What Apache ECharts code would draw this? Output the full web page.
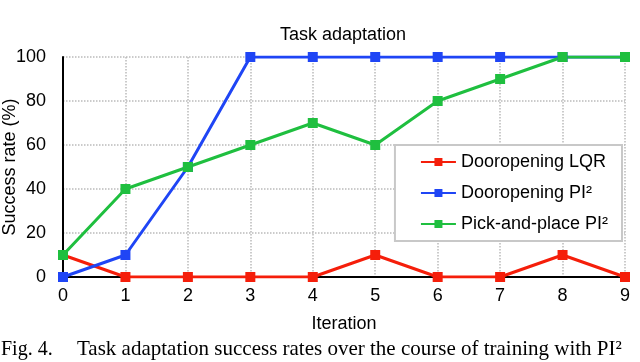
<!DOCTYPE html>
<html>
<head>
<meta charset="utf-8">
<script src="https://cdn.jsdelivr.net/npm/echarts@6/dist/echarts.min.js"></script>
<style>
  html, body { margin: 0; padding: 0; background: #fff; }
  #chart { width: 640px; height: 362px; }
</style>
</head>
<body>
<div id="chart"></div>
<script>
const iterations = ['0', '1', '2', '3', '4', '5', '6', '7', '8', '9']
const doorLqr = [10, 0, 0, 0, 0, 10, 0, 0, 10, 0]
const doorPi2 = [0, 10, 50, 100, 100, 100, 100, 100, 100, 100]
const pickPlacePi2 = [10, 40, 50, 60, 70, 60, 80, 90, 100, 100]
const seriesNames = ['Dooropening LQR', 'Dooropening PI²', 'Pick-and-place PI²']
const seriesColors = ['#f51e0a', '#1f45f5', '#1fbf3f']

const font = 'Liberation Sans, Arial, sans-serif'
const serif = 'Liberation Serif, Times New Roman, serif'
const myChart = echarts.init(document.getElementById('chart'))

const makeSeries = (name, data, color) => ({
  name,
  type: 'line',
  data,
  symbol: 'rect',
  symbolSize: 10,
  lineStyle: { width: 3, color },
  itemStyle: { color },
  animation: false
})

myChart.setOption({
  backgroundColor: '#fff',
  title: {
    text: 'Task adaptation',
    left: 338,
    textAlign: 'center',
    top: 21,
    textStyle: { fontFamily: font, fontSize: 18, fontWeight: 'normal', color: '#000' }
  },
  legend: {
    orient: 'vertical',
    right: 18,
    top: 145,
    padding: [8, 14, 8, 25],
    itemGap: 13,
    itemWidth: 35,
    itemHeight: 10,
    backgroundColor: '#fff',
    borderColor: '#c8c8c8',
    borderWidth: 2,
    textStyle: { fontFamily: font, fontSize: 18, color: '#000' },
    data: seriesNames
  },
  grid: { left: 63, right: 15, top: 57, bottom: 85, containLabel: false, outerBoundsMode: 'none' },
  xAxis: {
    type: 'category',
    data: iterations,
    boundaryGap: false,
    name: 'Iteration',
    nameLocation: 'middle',
    nameGap: 38,
    nameMoveOverlap: false,
    nameTextStyle: { fontFamily: font, fontSize: 18, color: '#000' },
    axisLine: { lineStyle: { color: '#000', width: 2 } },
    axisTick: { show: false },
    axisLabel: { fontFamily: font, fontSize: 18, color: '#000', margin: 10 },
    splitLine: { show: true, lineStyle: { color: '#bbb', type: 'dotted', width: 1.5 } }
  },
  yAxis: {
    type: 'value',
    min: 0,
    max: 100,
    interval: 20,
    name: 'Success rate (%)',
    nameLocation: 'middle',
    nameGap: 44,
    nameMoveOverlap: false,
    nameTextStyle: { fontFamily: font, fontSize: 18, color: '#000' },
    axisLine: { show: true, lineStyle: { color: '#000', width: 2 } },
    axisTick: { show: false },
    axisLabel: { fontFamily: font, fontSize: 18, color: '#000', margin: 17 },
    splitLine: { show: true, lineStyle: { color: '#bbb', type: 'dotted', width: 1.5 } }
  },
  series: [
    makeSeries(seriesNames[0], doorLqr, seriesColors[0]),
    makeSeries(seriesNames[1], doorPi2, seriesColors[1]),
    makeSeries(seriesNames[2], pickPlacePi2, seriesColors[2])
  ],
  graphic: [
    {
      type: 'text',
      left: 1,
      top: 340,
      style: { text: 'Fig. 4.', fontFamily: serif, fontSize: 20, fill: '#000' }
    },
    {
      type: 'text',
      left: 77,
      top: 339,
      style: {
        text: 'Task adaptation success rates over the course of training with PI²',
        fontFamily: serif,
        fontSize: 21,
        fill: '#000'
      }
    }
  ]
})
</script>
</body>
</html>
